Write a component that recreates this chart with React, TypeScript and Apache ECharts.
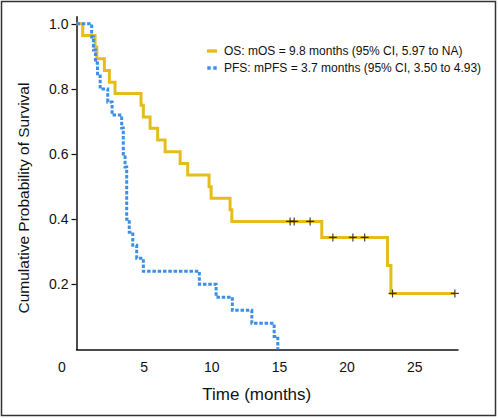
import React, { useEffect, useRef } from "react";
import * as echarts from "echarts";

const seriesNames = ["OS", "PFS"];
const legendLabels = [
  "OS: mOS = 9.8 months (95% CI, 5.97 to NA)",
  "PFS: mPFS = 3.7 months (95% CI, 3.50 to 4.93)",
];

const osTimes = [0, 0.46, 1.37, 1.5, 2.06, 2.43, 2.85, 4.77, 4.94, 5.44, 6.0, 6.55, 7.66, 8.22, 9.8, 9.95, 11.35, 11.48, 18.13, 22.99, 23.24, 27.97];
const osSurv = [1.0, 0.964, 0.929, 0.893, 0.857, 0.821, 0.786, 0.75, 0.714, 0.679, 0.643, 0.607, 0.571, 0.536, 0.5, 0.464, 0.429, 0.393, 0.344, 0.258, 0.172, 0.172];

const pfsTimes = [0, 1.12, 1.25, 1.4, 1.55, 1.75, 2.31, 2.63, 3.34, 3.46, 3.59, 3.71, 3.9, 4.16, 4.45, 4.94, 9.08, 10.32, 11.52, 12.96, 14.61, 14.88];
const pfsSurv = [1.0, 0.96, 0.92, 0.88, 0.84, 0.8, 0.76, 0.72, 0.68, 0.6, 0.56, 0.4, 0.36, 0.32, 0.28, 0.24, 0.2, 0.16, 0.12, 0.08, 0.04, 0.0];

const osCensorTimes = [15.79, 16.09, 17.27, 18.95, 20.43, 21.3, 23.36, 27.97];
const osCensorSurv = [0.393, 0.393, 0.393, 0.344, 0.344, 0.344, 0.172, 0.172];

const xTicks = [0, 5, 10, 15, 20, 25];
const yTicks = [0.2, 0.4, 0.6, 0.8, 1.0];

const OS_COLOR = "#E5BD1A";
const PFS_COLOR = "#3C8FE4";
const FONT = "Liberation Sans, Arial, sans-serif";

export default function App() {
  const ref = useRef<HTMLDivElement>(null);
  useEffect(() => {
    document.body.style.margin = "0";
    const chart = echarts.init(ref.current!, null, { renderer: "svg" });
    const osData = osTimes.map((t, i) => [t, osSurv[i]]);
    const pfsData = pfsTimes.map((t, i) => [t, pfsSurv[i]]);
    const censorData = osCensorTimes.map((t, i) => [t, osCensorSurv[i]]);
    chart.setOption({
      animation: false,
      backgroundColor: "#ffffff",
      textStyle: { fontFamily: FONT },
      graphic: [
        {
          type: "rect",
          shape: { x: 1.5, y: 1.5, width: 494, height: 414 },
          style: { fill: "none", stroke: "#333", lineWidth: 1.5 },
          silent: true,
        },
      ],
      legend: {
        orient: "vertical",
        left: 207,
        top: 45,
        padding: 0,
        itemGap: 5,
        itemWidth: 10,
        itemHeight: 3.4,
        textStyle: { fontSize: 12, color: "#111", fontFamily: FONT, padding: [0, 0, 0, 2] },
        data: [
          { name: seriesNames[0], icon: "rect" },
          { name: seriesNames[1], icon: "path://M0,0h3.4v3.4h-3.4zM6,0h3.4v3.4h-3.4z" },
        ],
        formatter: (name: string) => legendLabels[seriesNames.indexOf(name)],
      },
      grid: { left: 76.5, right: 40, top: 16.7, bottom: 68.6 },
      xAxis: {
        type: "value",
        min: 0,
        max: 28.2,
        name: "Time (months)",
        nameLocation: "middle",
        nameGap: 37,
        nameTextStyle: { fontSize: 17, color: "#111", padding: [0, 21, 0, 0], fontFamily: FONT },
        splitLine: { show: false },
        axisLine: { show: true, lineStyle: { color: "#111", width: 1.5 } },
        axisTick: { show: false },
        axisLabel: {
          customValues: xTicks,
          fontSize: 14,
          color: "#111",
          margin: 11,
          formatter: (v: number) => (v === 0 ? "{z|0}" : String(v)),
          rich: { z: { fontSize: 14, color: "#111", padding: [0, 29, 0, 0], fontFamily: FONT } },
        },
      },
      yAxis: {
        type: "value",
        min: 0,
        max: 1.022,
        name: "Cumulative Probability of Survival",
        nameLocation: "middle",
        nameGap: 45,
        nameTextStyle: { fontSize: 15.5, color: "#111", padding: [0, 30, 0, 0], fontFamily: FONT },
        splitLine: { show: false },
        axisLine: { show: true, lineStyle: { color: "#111", width: 1.5 } },
        axisTick: { show: true, customValues: yTicks, length: 5, lineStyle: { color: "#111", width: 1.2 } },
        axisLabel: {
          customValues: yTicks,
          fontSize: 14,
          color: "#111",
          margin: 8,
          formatter: (v: number) => v.toFixed(1),
        },
      },
      series: [
        {
          name: seriesNames[0],
          type: "line",
          step: "end",
          data: osData,
          symbol: "none",
          itemStyle: { color: OS_COLOR },
          lineStyle: { color: OS_COLOR, width: 3, cap: "butt", join: "miter" },
          z: 2,
        },
        {
          name: seriesNames[1],
          type: "line",
          step: "end",
          data: pfsData,
          symbol: "none",
          itemStyle: { color: PFS_COLOR },
          lineStyle: { color: PFS_COLOR, width: 3, type: [3.5, 1.8], cap: "butt", join: "miter" },
          z: 3,
        },
        {
          name: "OS censored",
          type: "scatter",
          data: censorData,
          symbol: "path://M5,0V10M0,5H10",
          symbolSize: 8,
          itemStyle: { color: "transparent", borderColor: "#111", borderWidth: 1.2 },
          z: 4,
        },
      ],
    });
    return () => chart.dispose();
  }, []);
  return <div ref={ref} style={{ width: 498, height: 418 }} />;
}
